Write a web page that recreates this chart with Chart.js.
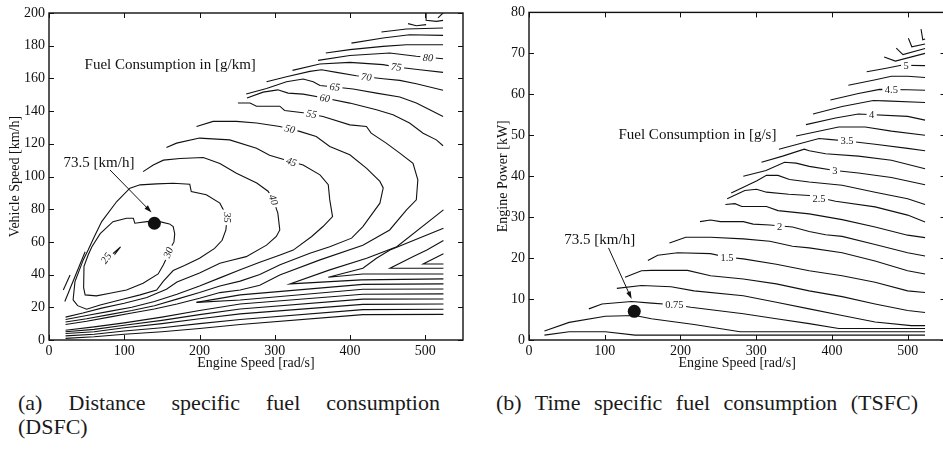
<!DOCTYPE html>
<html>
<head>
<meta charset="utf-8">
<script src="https://cdn.jsdelivr.net/npm/chart.js@4.4.0/dist/chart.umd.min.js"></script>
<style>
    html, body { margin: 0; padding: 0; background: #fff; overflow: hidden; width: 943px; height: 462px; }
    #wrap-a { position: absolute; left: 0; top: 0; }
    #wrap-b { position: absolute; left: 480px; top: 0; }
    .cap { position: absolute; font-family: "Liberation Serif", "DejaVu Serif", serif; font-size: 22px; line-height: 24px; color: #1a1a1a; white-space: nowrap; }
    .just { text-align: justify; text-align-last: justify; white-space: normal; }
</style>
</head>
<body>
<div id="wrap-a"><canvas id="dsfc" width="470" height="372"></canvas></div>
<div id="wrap-b"><canvas id="tsfc" width="472" height="372"></canvas></div>
<div class="cap just" style="left:18px; top:391px; width:422px;">(a) Distance specific fuel consumption</div>
<div class="cap" style="left:18px; top:415px;">(DSFC)</div>
<div class="cap just" style="left:496px; top:391px; width:422px;">(b) Time specific fuel consumption (TSFC)</div>

<script>
// ---- DSFC contours [engine speed rad/s, vehicle speed km/h] ----
const dsfc25 = [[70,47],[83,52],[95,57],[85,51],[74,46],[70,47]];
const dsfc30 = [[103,74.5],[112,74.5],[114,71.4],[130,72.4],[147,72.4],[160,71],[165,69.4],[167,65],[166,60],[160,55],[156,50],[152,46],[145,40.4],[125,34.7],[103,30.6],[81,28.6],[63,27],[48,27.6],[46,32],[46.5,45],[52,52],[57,57],[68,65],[85,72.4],[103,74.5]];
const dsfc35 = [[32,24.5],[34.5,35.7],[45.5,49],[52,55],[60,63],[70,72.4],[90,84.7],[107.5,92.9],[121,94.9],[143,95.5],[165,95.9],[187,95.3],[189,90.8],[209,88.8],[227,83.7],[234,77.6],[236,72.4],[235,67.3],[230,61],[220,56],[200,50],[180,45.5],[165,42.5],[152,36],[143,30.5],[121,27.6],[94,24.5],[68,21.4],[50,18.8],[38,21],[32,24.5]];
const dsfc40 = [[125,103],[138.5,107],[152,110],[174,111],[205,111.6],[227,108],[249,102],[276,96],[291,91],[298,85.7],[304,77.6],[306.6,67.3],[302,63.3],[289,58],[262,51],[240,48.5],[227,47],[200,41],[170,35.5],[156,31],[130,26],[100,22.5],[70,19.5],[45,16.5],[22,14]];
const dsfcEdgeA = [[19,30.6],[28,39.8]];
const dsfcEdgeB = [[21,23.5],[48,54]];
const dsfc45 = [[156,117.8],[169.5,120.4],[200,123.5],[240,122.4],[275.7,117.3],[293,113],[322,109],[337.6,107],[360,101],[371,95],[373,85.7],[376.7,75.5],[364,69.4],[349,63.3],[324.5,55],[307,52],[280,47.5],[254,43],[227,38],[200,33],[170,28],[140,23.5],[110,20],[80,17.5],[50,15],[22,12.5]];
const dsfc50 = [[196,130.6],[218,133.7],[249,133.7],[275.7,132.7],[306.6,130.6],[320,129],[333,127.6],[355,124.5],[373,118.4],[399.6,113.3],[422,105],[439.6,97],[444,93],[439.6,83.7],[417,69.4],[402,62.3],[373,57],[346.6,53],[307,46],[280,40],[254,36],[227,33],[200,29],[170,25],[140,21],[110,18],[80,15.5],[50,13],[22,11]];
const dsfc55 = [[251,145],[267,145],[275.7,143],[306.6,143],[313,140.4],[337.6,139],[364,136.7],[399.6,131.6],[421.7,130.6],[428,126.5],[448,120.4],[466,114.3],[483.6,108],[490,98],[488,85.7],[475,79.6],[452.6,67.3],[417,58],[360,49],[306.6,39.8],[280,33.5],[254,30.6],[227,29],[200,25.5],[170,22],[140,19],[110,16.5],[80,14],[50,11.5],[22,9.5]];
const dsfc60 = [[263,148],[284.5,151.6],[304,153],[317.7,151],[337.6,150.4],[366,148],[399.6,144.9],[435,140.8],[457,137.8],[479,132.7],[497,126.5],[514.6,122.4],[523.5,118.8]];
const dsfc65 = [[262,150.5],[289,153.8],[315.5,158],[337.6,159.6],[351,158],[360,155.7],[379.6,154.7],[404,153.5],[435,151],[466,148.6],[488,145],[505.8,140.8],[523.5,136.7]];
const dsfc70 = [[289,158],[315.5,161],[346.5,164.3],[362,165.3],[382,163.7],[408.4,161.6],[443.8,159.8],[466,158.8],[488,156.7],[505.8,154.7],[523.5,152.7]];
const dsfc75 = [[323.5,164.9],[359.7,168.8],[399.6,169.8],[443.8,168.4],[461.5,167],[492.5,165.3],[523.5,163.7]];
const dsfc80 = [[357.5,171],[399.6,174],[452.6,175.5],[488,173.5],[523.5,172]];
const dsfc85 = [[367.7,175.5],[399.6,177.6],[443.8,179.6],[474.8,180.6],[523.5,180.6]];
const dsfc90 = [[401.8,181.6],[443.8,184.7],[479,186.7],[523.5,186.3]];
const dsfc95 = [[441.6,188.4],[474.8,190.2],[523.5,190.8]];
const dsfcCornerA = [[477,193.5],[488,192.2],[501,192.9]];
const dsfcCornerB = [[501,200],[501,195.5],[514.6,194.9],[523.5,195.5]];
const dsfcCornerC = [[516.8,197],[523.5,200]];
// low speed / high rpm band
const dsfcV1 = [[524,79.6],[462,57],[422,50],[373,42.9],[320,34.3],[415,36.8],[524,37.4]];
const dsfcV2 = [[524,68.4],[453,55],[435,50],[417,43.9],[371,38.4],[417,40.4],[524,40.4]];
const dsfcV3 = [[524,60.8],[502,55.1],[484,51],[453,43.9],[524,43.9]];
const dsfcV4 = [[524,52.7],[497,46.5],[524,46.5]];
const dsfcF1 = [[196,23],[254,27.6],[417,34],[524,34.3]];
const dsfcF2 = [[196,23],[254,24.5],[417,31],[524,31.2]];
const dsfcF3 = [[22,6],[60,8],[100,10.5],[150,14],[200,18],[254,22],[417,28],[524,28.2]];
const dsfcF4 = [[22,5],[60,6.5],[100,9],[150,12],[200,15.5],[254,19],[417,25],[524,25.1]];
const dsfcF5 = [[22,4],[60,5],[100,7.5],[150,10],[200,13],[254,16],[417,21.8],[524,22]];
const dsfcF6 = [[22,2.5],[60,3.5],[100,5.5],[150,7.5],[200,10],[254,12.5],[417,18.6],[524,18.8]];
const dsfcF7 = [[22,1],[60,2],[100,3.5],[150,5],[200,7],[254,9.5],[417,15.5],[524,15.7]];

const dsfcLabels = [['80',503.5,172.6],['75',461.5,167],['70',421.7,160.8],['65',379.6,154.7],['60',366.4,147.8],['55',348.7,138.2],['50',320,129],['45',322,109],['40',298,85.7],['35',236.5,75],['30',158.5,53.5],['25',76,50]];
const dsfcDot = [[140,71.4]];
const dsfcNote = ['73.5 [km/h]', 66.4, 108.4];
const dsfcArrow = [[81,104],[136.3,78]];
const dsfcHeading = ['Fuel Consumption in [g/km]', 161, 168];

// ---- TSFC contours [engine speed rad/s, engine power kW] ----
const tsfc50 = [[446,65.5],[470,66.3],[491.6,67.1],[523,67]];
const tsfc48 = [[421.7,62.2],[456,63.5],[478.6,64.4],[500,64.4],[523,64.1]];
const tsfc45 = [[398,58.6],[435,60.2],[463,61.2],[500,61.1],[523,61]];
const tsfc43 = [[375,55.2],[413.5,57],[454.7,58.5],[469.9,58.4],[523,58]];
const tsfc40 = [[365.7,52.6],[404.8,54.2],[435,55.2],[500,54.6],[523,53.7]];
const tsfc38 = [[352.7,49.8],[409,52],[443.9,52],[478.6,51],[523,50]];
const tsfc35 = [[330,46.6],[383,49.2],[396,49],[420,48.6],[457,47.8],[500,46.8],[523,46.2]];
const tsfc33 = [[307,43.4],[335,44.9],[363.5,46.6],[370,46.2],[391.7,45.5],[435,44.9],[478.6,43.9],[523,41.8]];
const tsfc30 = [[283,40],[313,41.4],[337.5,43.4],[352.7,43.2],[370,42.4],[404,41.4],[435,40.8],[478.6,39.7],[523,37.9]];
const tsfc28 = [[267,35.9],[283,37.3],[301,38.9],[313.6,40.2],[328.8,40.2],[344,39.2],[370,38.6],[413.5,37.8],[457,36.1],[500,34.5],[523,33.1]];
const tsfc25 = [[261.7,34.5],[285,36.5],[300.5,36.8],[313.6,36.1],[343,35.6],[370,35.3],[404.8,33.9],[457,32.5],[500,30.5],[523,28.8]];
const tsfc23 = [[259.3,33.1],[272,33.3],[281,32.6],[313.6,32.6],[328.8,31.6],[370,30.8],[413.5,29.4],[457,27.6],[500,25.6],[523,25]];
const tsfc20 = [[225.8,28.9],[239.7,29.3],[252.7,28.9],[283,28.9],[296,28.3],[318,28.1],[348,27.6],[370,26.5],[391.7,25.7],[413.5,25.3],[457,23.3],[500,21.3],[523,20.5]];
const tsfc18 = [[185.5,23.7],[207,25.1],[239.7,25.1],[283,24.7],[318,24.1],[348,22.9],[370,22.5],[413.5,21.3],[457,19.3],[500,16.9],[523,16.1]];
const tsfc15 = [[157,19.4],[170,20.7],[196.3,21.3],[239.7,21.1],[261.5,20.2],[283,19.8],[326.6,18.5],[370,16.9],[413.5,15.7],[457,14.1],[500,12],[523,11.6]];
const tsfc13 = [[126.8,15.3],[148.5,16.9],[161.6,17],[209.3,17],[239.7,15.7],[283,14.9],[326.6,13.7],[370,12],[413.5,10.6],[457,8.8],[500,7.2],[523,6.7]];
const tsfc10 = [[116,12.6],[148.5,13.3],[187.6,13],[218,12],[283,10.8],[326.6,9.2],[370,7.6],[413.5,6],[457,4.4],[504.7,3.5],[523,3.5]];
const tsfc075 = [[79,7.6],[96.4,8.8],[135.5,9.4],[161.6,9],[192,8.6],[213.7,8],[248.4,7.2],[283,6.4],[326.6,5.2],[370,4],[409,2.8],[523,2.8]];
const tsfc050 = [[20.4,2.2],[53,4.3],[100.8,5.8],[140,6],[161.6,5.2],[218,3.8],[278.8,2],[523,2]];
const tsfc025 = [[20.4,1.2],[53,2],[100.8,2],[140,1.2],[523,1.2]];
const tsfcTopA = [[469,69.1],[483.8,68.1],[523,70]];
const tsfcTopB = [[485,71.3],[493.8,69.7],[523,71.2]];
const tsfcTopC = [[501,73.7],[505.5,71.6],[523,72.3]];
const tsfcTopD = [[517.7,75.9],[520,73.3],[523,73.5]];

const tsfcLabels = [['5',498,67],['4.5',478.6,61.2],['4',452.5,55],['3.5',420,48.6],['3',404,41.4],['2.5',383,34.5],['2',331,27.6],['1.5',261.5,20.2],['0.75',192,8.6]];
const tsfcDot = [[139,7]];
const tsfcNote = ['73.5 [km/h]', 93.4, 24.3];
const tsfcArrow = [[105,22.5],[135.5,10]];
const tsfcHeading = ['Fuel Consumption in [g/s]', 222.4, 50];

const SERIF = '"Liberation Serif", "DejaVu Serif", serif';
const INK = '#111';

function toPoints(arr) {
    return arr.map(p => ({ x: p[0], y: p[1] }));
}

function contourSet(list) {
    return list.map(pts => ({
        data: toPoints(pts),
        showLine: true,
        borderColor: INK,
        borderWidth: 1.1,
        pointRadius: 0,
        fill: false
    }));
}

// frame, inward ticks, contour labels and notes
function makeDecor(cfg) {
    return {
        id: 'decor',
        afterDatasetsDraw(chart) {
            const { ctx, scales: { x, y } } = chart;
            ctx.save();
            ctx.textAlign = 'center';
            ctx.textBaseline = 'middle';
            ctx.font = cfg.labelFont;
            cfg.labels.forEach((l, i) => {
                const px = x.getPixelForValue(l[1]);
                const py = y.getPixelForValue(l[2]);
                const w = ctx.measureText(l[0]).width + 5;
                ctx.save();
                ctx.translate(px, py);
                ctx.rotate((cfg.angles[i] || 0) * Math.PI / 180);
                ctx.fillStyle = '#fff';
                ctx.fillRect(-w / 2, -5.5, w, 11);
                ctx.fillStyle = '#222';
                ctx.fillText(l[0], 0, 0.5);
                ctx.restore();
            });

            ctx.fillStyle = INK;
            ctx.font = '15px ' + SERIF;
            ctx.fillText(cfg.heading[0], x.getPixelForValue(cfg.heading[1]), y.getPixelForValue(cfg.heading[2]));
            ctx.fillText(cfg.note[0], x.getPixelForValue(cfg.note[1]), y.getPixelForValue(cfg.note[2]));

            // arrow
            const x1 = x.getPixelForValue(cfg.arrow[0][0]), y1 = y.getPixelForValue(cfg.arrow[0][1]);
            const x2 = x.getPixelForValue(cfg.arrow[1][0]), y2 = y.getPixelForValue(cfg.arrow[1][1]);
            const ang = Math.atan2(y2 - y1, x2 - x1);
            ctx.strokeStyle = INK;
            ctx.lineWidth = 1;
            ctx.beginPath();
            ctx.moveTo(x1, y1);
            ctx.lineTo(x2 - 4 * Math.cos(ang), y2 - 4 * Math.sin(ang));
            ctx.stroke();
            ctx.beginPath();
            ctx.moveTo(x2, y2);
            ctx.lineTo(x2 - 8 * Math.cos(ang - 0.3), y2 - 8 * Math.sin(ang - 0.3));
            ctx.lineTo(x2 - 8 * Math.cos(ang + 0.3), y2 - 8 * Math.sin(ang + 0.3));
            ctx.closePath();
            ctx.fill();
            ctx.restore();
        },
        afterDraw(chart) {
            const { ctx, chartArea: a, scales: { x, y } } = chart;
            ctx.save();
            ctx.strokeStyle = INK;
            ctx.lineWidth = 1.4;
            ctx.strokeRect(a.left, a.top, a.right - a.left, a.bottom - a.top);
            ctx.lineWidth = 1;
            ctx.beginPath();
            x.ticks.forEach(t => {
                const px = Math.round(x.getPixelForValue(t.value)) + 0.5;
                ctx.moveTo(px, a.bottom); ctx.lineTo(px, a.bottom - 5);
                ctx.moveTo(px, a.top); ctx.lineTo(px, a.top + 5);
            });
            y.ticks.forEach(t => {
                const py = Math.round(y.getPixelForValue(t.value)) + 0.5;
                ctx.moveTo(a.left, py); ctx.lineTo(a.left + 5, py);
                ctx.moveTo(a.right, py); ctx.lineTo(a.right - 5, py);
            });
            ctx.stroke();
            ctx.restore();
        }
    };
}

function makeScales(yMax, yStep, yTitle, yTitlePad) {
    return {
        x: {
            type: 'linear', min: 0, max: 550,
            grid: { display: false, drawTicks: false },
            border: { display: false },
            ticks: { stepSize: 100, includeBounds: false, padding: 3, color: INK, maxRotation: 0, autoSkip: false,
                     font: { family: SERIF, size: 14 } },
            title: { display: true, text: 'Engine Speed [rad/s]', color: INK,
                     font: { family: SERIF, size: 14 }, padding: { top: 0, bottom: 0 } },
            afterFit: s => { s.height = 32; }
        },
        y: {
            type: 'linear', min: 0, max: yMax,
            grid: { display: false, drawTicks: false },
            border: { display: false },
            ticks: { stepSize: yStep, padding: 4, color: INK, autoSkip: false,
                     font: { family: SERIF, size: 14 } },
            title: { display: true, text: yTitle, color: INK,
                     font: { family: SERIF, size: 14 }, padding: { top: yTitlePad, bottom: 0 } },
            afterFit: s => { s.width = 49; }
        }
    };
}

function buildChart(id, contours, dot, scales, padding, decor) {
    const datasets = contourSet(contours);
    datasets.push({ data: toPoints(dot), pointRadius: 6.5, pointBackgroundColor: INK, pointBorderWidth: 0, showLine: false });
    return new Chart(document.getElementById(id).getContext('2d'), {
        type: 'scatter',
        data: { datasets },
        options: {
            responsive: false,
            animation: false,
            events: [],
            layout: { padding },
            plugins: { legend: { display: false }, tooltip: { enabled: false } },
            scales
        },
        plugins: [makeDecor(decor)]
    });
}

buildChart('dsfc',
    [dsfc25, dsfc30, dsfc35, dsfc40, dsfcEdgeA, dsfcEdgeB, dsfc45, dsfc50, dsfc55, dsfc60, dsfc65, dsfc70, dsfc75,
     dsfc80, dsfc85, dsfc90, dsfc95, dsfcCornerA, dsfcCornerB, dsfcCornerC,
     dsfcV1, dsfcV2, dsfcV3, dsfcV4, dsfcF1, dsfcF2, dsfcF3, dsfcF4, dsfcF5, dsfcF6, dsfcF7],
    dsfcDot,
    makeScales(200, 20, 'Vehicle Speed [km/h]', 7),
    { top: 13, right: 7, left: 0, bottom: 0 },
    { labels: dsfcLabels, angles: [4, 6, 7, 6, 8, 10, 14, 18, 70, 90, -70, -55],
      labelFont: 'italic 10.5px ' + SERIF, heading: dsfcHeading, note: dsfcNote, arrow: dsfcArrow });

buildChart('tsfc',
    [tsfc50, tsfc48, tsfc45, tsfc43, tsfc40, tsfc38, tsfc35, tsfc33, tsfc30, tsfc28, tsfc25, tsfc23, tsfc20,
     tsfc18, tsfc15, tsfc13, tsfc10, tsfc075, tsfc050, tsfc025, tsfcTopA, tsfcTopB, tsfcTopC, tsfcTopD],
    tsfcDot,
    makeScales(80, 10, 'Engine Power [kW]', 15),
    { top: 8, right: 0, left: 0, bottom: 0 },
    { labels: tsfcLabels, angles: [],
      labelFont: '10.5px ' + SERIF, heading: tsfcHeading, note: tsfcNote, arrow: tsfcArrow });
</script>
</body>
</html>
